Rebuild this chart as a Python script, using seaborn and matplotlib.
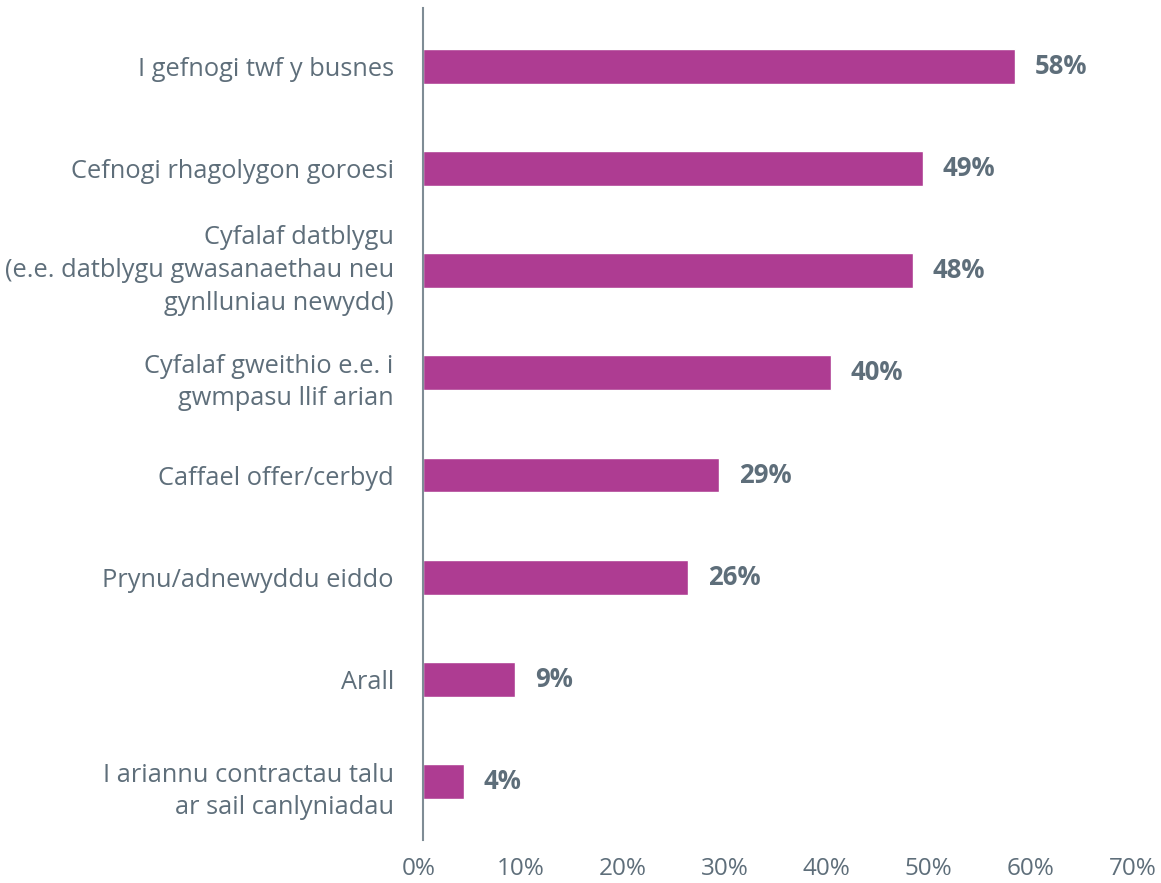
import pandas as pd
import numpy as np
import seaborn as sns
import matplotlib.pyplot as plt
import matplotlib.transforms as mtransforms

categories = [
    'I gefnogi twf y busnes',
    'Cefnogi rhagolygon goroesi',
    'Cyfalaf datblygu\n(e.e. datblygu gwasanaethau neu\ngynlluniau newydd)',
    'Cyfalaf gweithio e.e. i\ngwmpasu llif arian',
    'Caffael offer/cerbyd',
    'Prynu/adnewyddu eiddo',
    'Arall',
    'I ariannu contractau talu\nar sail canlyniadau',
]
values = [58, 49, 48, 40, 29, 26, 9, 4]
tick_vals = [0, 10, 20, 30, 40, 50, 60, 70]

bar_color = '#AE3C92'
text_color = '#5E6E7A'

sns.set_style('white')
plt.rcParams['font.family'] = ['Open Sans', 'DejaVu Sans']

df = pd.DataFrame({'cat': categories, 'val': values})

fig = plt.figure(figsize=(11.61, 8.83), dpi=100)
ax = fig.add_axes([0.3643, 0.0487, 0.615, 0.9423])

sns.barplot(data=df, x='val', y='cat', orient='h', color=bar_color,
            saturation=1, width=0.34, ax=ax)

for i, v in enumerate(values):
    ax.text(v + 1.95, i, f'{v}%', va='center', ha='left', fontsize=18.5,
            fontweight='bold', color=text_color)

ax.set_xlim(0, 70)
ax.set_ylim(7.57, -0.57)
ax.set_xticks(tick_vals)
ax.set_xticklabels([f'{t}%' for t in tick_vals], fontsize=17.5, color=text_color)
ax.tick_params(axis='y', labelsize=18.3, labelcolor=text_color, length=0, pad=21)
ax.tick_params(axis='x', length=0, pad=12)
ax.set_xlabel('')
ax.set_ylabel('')
for s in ['top', 'right', 'bottom']:
    ax.spines[s].set_visible(False)
ax.spines['left'].set_color('#7F8C95')
ax.spines['left'].set_linewidth(1.5)

# multi-line labels: tighter spacing, small vertical nudges (px)
nudge = {1: -3, 2: 7}
for lbl in ax.get_yticklabels():
    lbl.set_multialignment('right')
    lbl.set_linespacing(1.4)
    n = lbl.get_text().count('\n')
    if n:
        up = mtransforms.ScaledTranslation(0, nudge[n] / 100, fig.dpi_scale_trans)
        lbl.set_transform(lbl.get_transform() + up)

# x tick labels sit a few pixels left of their ticks in the original
shift = mtransforms.ScaledTranslation(-4.5 / 100, 0, fig.dpi_scale_trans)
for lbl in ax.get_xticklabels():
    lbl.set_transform(lbl.get_transform() + shift)

fig.savefig('out.png', dpi=100)
